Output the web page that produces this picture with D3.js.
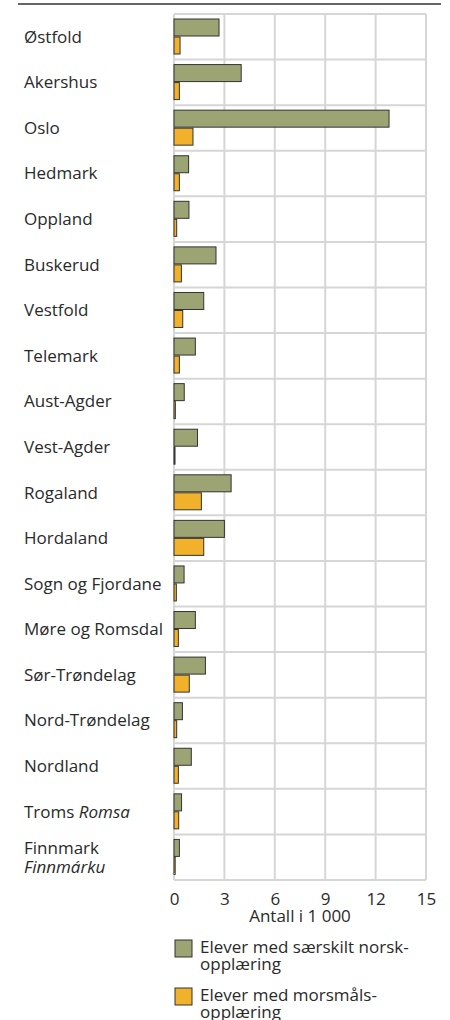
<!DOCTYPE html>
<html><head><meta charset="utf-8">
<script src="https://cdn.jsdelivr.net/npm/d3@7"></script>
<style>
body{margin:0;background:#fff;}
svg text{font-family:"Open Sans","Noto Sans",sans-serif;fill:#2a2a2a;font-weight:400;}
</style></head>
<body><svg id="c" width="450" height="1020"></svg>
<script>
const categories = ["Østfold","Akershus","Oslo","Hedmark","Oppland","Buskerud","Vestfold","Telemark","Aust-Agder","Vest-Agder","Rogaland","Hordaland","Sogn og Fjordane","Møre og Romsdal","Sør-Trøndelag","Nord-Trøndelag","Nordland","Troms|Romsa","Finnmark|Finnmárku"];
const norsk = [2.68,4.0,12.8,0.87,0.89,2.5,1.77,1.27,0.61,1.4,3.4,3.0,0.6,1.27,1.87,0.5,1.03,0.45,0.32];
const morsmal = [0.36,0.32,1.13,0.32,0.16,0.44,0.52,0.32,0.08,0.05,1.63,1.77,0.14,0.26,0.91,0.16,0.26,0.28,0.07];
const ticks = [0,3,6,9,12,15];
const seriesNames = ["Elever med særskilt norsk-|opplæring","Elever med morsmåls-|opplæring"];
const colors = ["#9da474","#f2b12a"];
const FS = 17;

const svg = d3.select("#c");
const x = d3.scaleLinear().domain([0,15]).range([174,426]);
const y = d3.scaleBand().domain(categories).range([14,880]);

// top rule
svg.append("line").attr("x1",18).attr("x2",441).attr("y1",4).attr("y2",4).attr("stroke","#333").attr("stroke-width",1.5);

// grid
const g = svg.append("g");
ticks.forEach(t=>{
  g.append("line").attr("x1",x(t)).attr("x2",x(t)).attr("y1",14).attr("y2",880).attr("stroke","#d6d6d6").attr("stroke-width",2);
});
categories.forEach((c,i)=>{
  g.append("line").attr("x1",174).attr("x2",426).attr("y1",y(c)).attr("y2",y(c)).attr("stroke","#d6d6d6").attr("stroke-width",2);
});
g.append("line").attr("x1",174).attr("x2",426).attr("y1",880).attr("y2",880).attr("stroke","#d6d6d6").attr("stroke-width",2);

// bars
const bh = 17;
svg.append("g").selectAll("rect").data(categories).join("rect")
  .attr("x",x(0)).attr("y",c=>y(c)+5).attr("height",bh)
  .attr("width",(c,i)=>x(norsk[i])-x(0))
  .attr("fill",colors[0]).attr("stroke","#333").attr("stroke-width",1);
svg.append("g").selectAll("rect").data(categories).join("rect")
  .attr("x",x(0)).attr("y",c=>y(c)+23).attr("height",bh)
  .attr("width",(c,i)=>Math.max(1,x(morsmal[i])-x(0)))
  .attr("fill",colors[1]).attr("stroke","#333").attr("stroke-width",1);

// category labels
categories.forEach(c=>{
  const parts = c.split("|");
  const cy = y(c)+y.bandwidth()/2;
  if (c.startsWith("Troms")) {
    const t = svg.append("text").attr("x",24).attr("y",cy).attr("dy","0.35em").attr("font-size",FS);
    t.append("tspan").text(parts[0]+" ");
    t.append("tspan").attr("font-style","italic").text(parts[1]);
  } else if (parts.length===2) {
    svg.append("text").attr("x",24).attr("y",cy-9.5).attr("dy","0.35em").attr("font-size",FS).text(parts[0]);
    svg.append("text").attr("x",24).attr("y",cy+9.5).attr("dy","0.35em").attr("font-size",FS).attr("font-style","italic").text(parts[1]);
  } else {
    svg.append("text").attr("x",24).attr("y",cy).attr("dy","0.35em").attr("font-size",FS).text(c);
  }
});

// axis
const ax = svg.append("g").attr("transform","translate(0,880)")
  .call(d3.axisBottom(x).tickValues(ticks).tickSize(0));
ax.select(".domain").remove();
ax.selectAll("text").attr("y",19).attr("dy","0.35em").attr("font-size",FS)
  .style("font-family",'"Open Sans","Noto Sans",sans-serif').style("font-weight",400).attr("fill","#2a2a2a");
svg.append("text").attr("x",300).attr("y",916).attr("dy","0.35em").attr("text-anchor","middle").attr("font-size",FS).text("Antall i 1 000");

// legend
seriesNames.forEach((s,i)=>{
  const ly = 940 + i*48;
  svg.append("rect").attr("x",175).attr("y",ly).attr("width",17).attr("height",17).attr("fill",colors[i]).attr("stroke","#333").attr("stroke-width",1);
  s.split("|").forEach((line,j)=>{
    svg.append("text").attr("x",200).attr("y",ly+7+j*17).attr("dy","0.35em").attr("font-size",FS).text(line);
  });
});
</script></body></html>
